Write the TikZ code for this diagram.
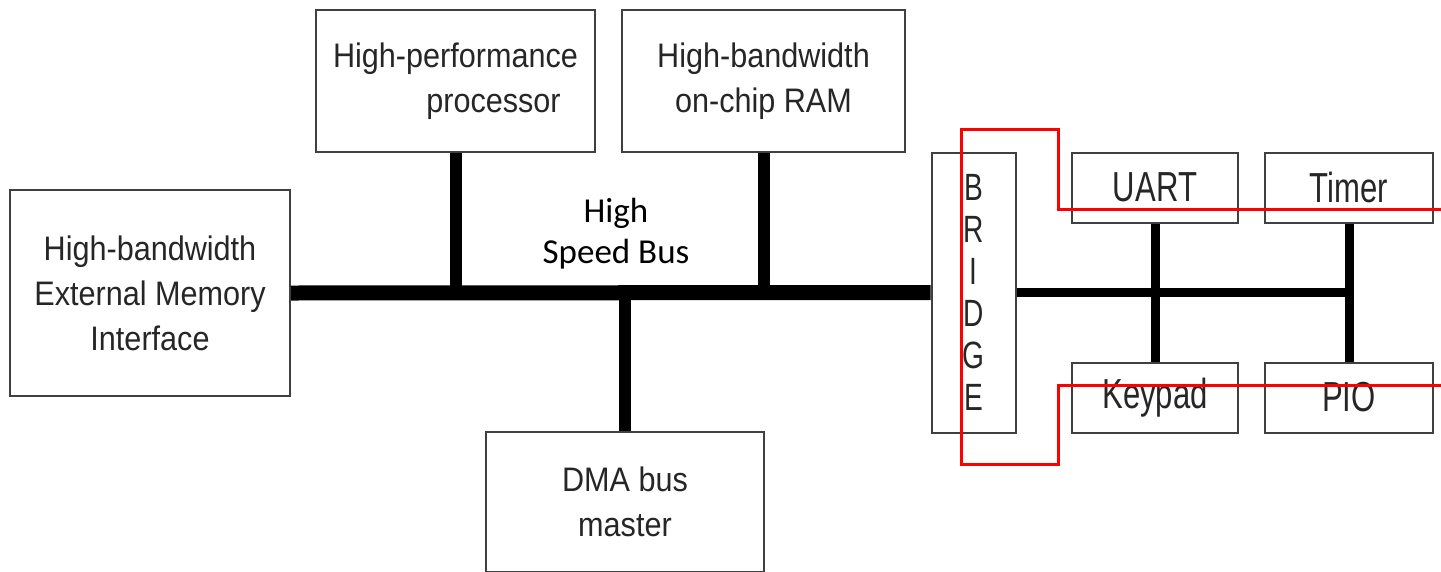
\documentclass[tikz,border=0pt]{standalone}
\usepackage{fontspec}
\newfontfamily\boxfont[FakeStretch=0.9]{Liberation Sans}
\newfontfamily\slimfont[FakeStretch=0.74]{Liberation Sans}
\newfontfamily\busfont{Carlito}

\begin{document}
\begin{tikzpicture}[x=1pt, y=-1pt,
      block/.style={draw=black!75, line width=2pt, inner sep=0pt, align=center,
        text=black!85, font=\boxfont\fontsize{34}{45}\selectfont},
      port/.style={block, minimum width=166pt, minimum height=70pt,
        font=\slimfont\fontsize{42}{42}\selectfont},
      bus/.style={line width=15pt, draw=black},
      stub/.style={line width=12pt, draw=black},
      pbus/.style={line width=9pt, draw=black},
      redline/.style={line width=3pt, draw=red}
    ]
    \useasboundingbox (0,0) rectangle (1441,571);
    \clip (0,0) rectangle (1441,571);
    % high speed side
    \node[block, minimum width=280pt, minimum height=206pt] (ext) at (150,293)
      {High-bandwidth\\External Memory\\Interface};
    \node[block, minimum width=279pt, minimum height=142pt] (proc) at (455.5,81)
      {High-performance\\\hspace*{76pt}processor};
    \node[block, minimum width=283pt, minimum height=142pt] (ram) at (763.5,81)
      {High-bandwidth\\on-chip RAM};
    \node[block, minimum width=278pt, minimum height=140pt] (dma) at (625,502)
      {DMA bus\\master};
    \node[block, minimum width=84pt, minimum height=280pt,
      font=\slimfont\fontsize{38}{42}\selectfont] (bridge) at (973.5,292.5)
      {B\\R\\I\\D\\G\\E};
    \node[font=\busfont\fontsize{35}{41}\selectfont, align=center, inner sep=0pt] (lbl)
      at (616,234) {High\\Speed Bus};
    \draw[bus] (ext.east) -- (bridge.west);
    \draw[stub] (proc.south) -- (proc.south |- ext.east);
    \draw[stub] (ram.south) -- (ram.south |- ext.east);
    \draw[stub] (dma.north) -- (dma.north |- ext.east);
    % peripheral side
    \node[port] (uart)   at (1155,187.5) {UART};
    \node[port, minimum width=168pt] (timer)  at (1349,187.5) {Timer};
    \node[port] (keypad) at (1155,397.5) {Keypad};
    \node[port, minimum width=168pt] (pio)    at (1349,397.5) {PIO};
    \draw[pbus] (bridge.east) -- (timer.south |- bridge.east);
    \draw[pbus] (uart.south) -- (keypad.north);
    \draw[pbus] (timer.south) -- (pio.north);
    % cut line
    \draw[redline] (1441,209) -- (1058,209) -- (1058,129) -- (961,129)
      -- (961,464) -- (1058,464) -- (1058,385) -- (1441,385);
\end{tikzpicture}
\end{document}
